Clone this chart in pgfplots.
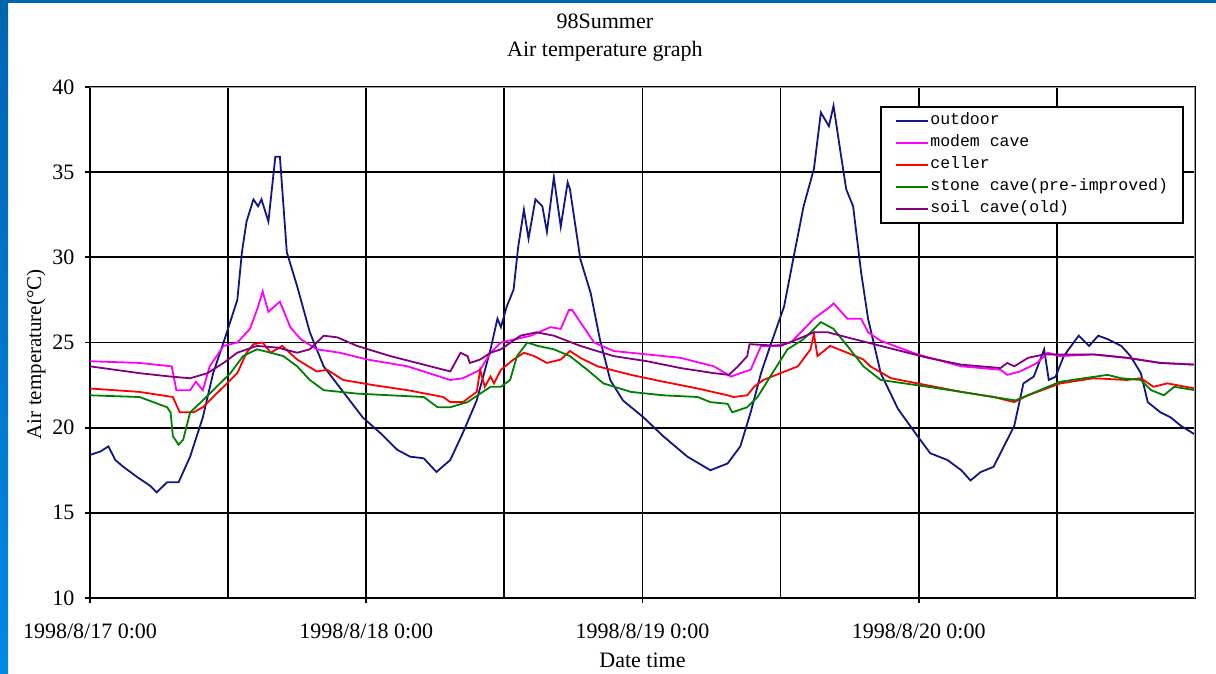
\documentclass[border=0pt]{standalone}
\usepackage{fontspec}
\setmainfont{Liberation Serif}
\newfontfamily\legfont{Liberation Mono}
\usepackage{pgfplots}
\usepackage{pgfplotstable}
\pgfplotsset{compat=1.18}
\definecolor{slideA}{RGB}{0,100,176}
\definecolor{slideB}{RGB}{0,136,230}
\definecolor{outdoorc}{RGB}{20,20,130}
\definecolor{modernc}{RGB}{255,0,255}
\definecolor{cellerc}{RGB}{255,0,0}
\definecolor{stonec}{RGB}{0,128,0}
\definecolor{soilc}{RGB}{128,0,128}
\definecolor{framegray}{RGB}{160,160,160}

\pgfplotstableread{
h T
0 18.4
0.9 18.6
1.6 18.9
2.2 18.1
2.9 17.7
4.1 17.1
5.2 16.6
5.8 16.2
6.7 16.8
7.7 16.8
8.7 18.3
9.8 20.6
10.7 23.2
11.7 25.2
12.8 27.5
13.2 30.3
13.6 32.1
14.2 33.4
14.6 33.0
14.9 33.4
15.5 32.1
16.1 35.9
16.5 35.9
17.1 30.3
18.0 28.3
19.1 25.6
20.3 23.6
22.0 22.1
23.7 20.6
25.2 19.7
26.7 18.7
27.8 18.3
29.0 18.2
30.1 17.4
31.3 18.1
32.4 19.7
33.6 21.6
34.8 24.6
35.4 26.4
35.7 25.9
36.2 27.1
36.8 28.1
37.2 30.6
37.7 32.8
38.1 31.1
38.7 33.4
39.3 33.0
39.7 31.5
40.3 34.7
40.9 31.8
41.5 34.4
41.7 34.0
42.6 29.9
43.5 27.9
44.3 25.2
45.2 22.8
46.3 21.6
48.1 20.6
49.8 19.5
51.9 18.3
53.9 17.5
55.4 17.9
56.5 18.9
57.4 20.9
58.3 23.2
59.1 24.8
60.3 27.1
61.1 29.9
62.0 33.0
62.9 35.2
63.5 38.5
64.2 37.7
64.6 38.9
65.2 36.2
65.7 34.0
66.3 33.0
67.0 29.1
67.6 26.4
68.7 23.2
70.2 21.1
71.9 19.5
73.0 18.5
74.5 18.1
75.7 17.5
76.5 16.9
77.4 17.4
78.5 17.7
79.1 18.5
80.3 20.1
81.1 22.6
82.0 23.0
82.9 24.6
83.3 22.8
83.9 23.0
84.6 24.2
85.9 25.4
86.8 24.8
87.6 25.4
88.4 25.2
89.6 24.8
90.4 24.2
91.3 23.2
91.9 21.5
93.0 20.9
93.9 20.6
94.8 20.1
96.0 19.6
}\outdoor

\pgfplotstableread{
h T
0 23.9
4.3 23.8
7.1 23.6
7.5 22.2
8.7 22.2
9.2 22.7
9.8 22.2
10.4 23.6
11.6 24.8
12.8 25.0
13.9 25.8
14.6 27.1
15.0 28.0
15.5 26.8
16.5 27.4
17.4 25.9
18.3 25.2
19.7 24.6
21.7 24.4
24.1 24.0
27.6 23.6
31.3 22.8
32.4 22.9
33.9 23.4
34.8 24.4
35.7 25.0
38.3 25.4
40.0 25.9
40.9 25.8
41.6 26.9
41.9 26.9
42.6 26.2
43.8 25.0
45.5 24.5
48.4 24.3
51.3 24.1
54.2 23.6
55.7 23.0
56.5 23.2
57.4 23.4
58.3 24.8
59.4 24.8
60.9 25.0
62.9 26.4
64.3 27.1
64.6 27.3
65.8 26.4
67.0 26.4
67.6 25.6
68.7 25.1
71.9 24.3
75.7 23.6
79.1 23.4
79.7 23.1
80.8 23.3
82.3 23.8
83.2 24.4
84.3 24.2
87.2 24.3
90.1 24.1
93.0 23.8
96.0 23.7
}\modern

\pgfplotstableread{
h T
0 22.3
4.3 22.1
7.2 21.8
7.8 20.9
9.0 20.9
9.8 21.2
10.7 21.8
11.6 22.4
12.8 23.2
13.6 24.4
14.2 24.9
15.0 25.0
15.7 24.4
16.7 24.8
18.0 24.0
19.7 23.3
20.6 23.4
22.0 22.8
24.6 22.5
27.6 22.2
30.7 21.8
31.3 21.5
32.4 21.5
33.6 22.1
33.9 23.4
34.3 22.4
34.8 23.0
35.1 22.6
35.7 23.4
36.8 24.0
37.7 24.4
38.6 24.2
39.7 23.8
40.9 24.0
41.7 24.5
42.6 24.1
44.1 23.6
47.0 23.1
49.8 22.7
52.8 22.3
55.4 21.9
55.9 21.8
57.1 21.9
57.7 22.4
58.5 22.8
60.0 23.2
61.5 23.6
62.6 24.6
62.9 25.5
63.2 24.2
64.3 24.8
65.8 24.4
67.2 24.0
67.8 23.6
69.6 22.9
71.9 22.6
75.7 22.1
78.5 21.8
80.3 21.5
81.5 21.9
84.3 22.6
87.2 22.9
90.1 22.8
91.3 22.9
92.4 22.4
93.6 22.6
96.0 22.3
}\celler

\pgfplotstableread{
h T
0 21.9
4.3 21.8
6.7 21.2
7.0 20.9
7.2 19.5
7.7 19.0
8.1 19.3
8.7 20.9
9.8 21.6
11.0 22.4
12.2 23.2
13.3 24.2
14.5 24.6
15.7 24.4
16.8 24.2
18.0 23.6
19.1 22.8
20.3 22.2
23.2 22.0
26.1 21.9
29.0 21.8
30.2 21.2
31.3 21.2
32.8 21.5
34.8 22.4
35.7 22.4
36.5 22.8
37.1 24.2
38.0 25.0
38.9 24.8
40.3 24.6
41.7 24.2
43.2 23.4
44.6 22.6
47.0 22.1
49.8 21.9
52.8 21.8
53.9 21.5
55.4 21.4
55.8 20.9
57.1 21.2
58.0 21.8
59.1 23.0
60.6 24.6
62.0 25.2
62.9 25.8
63.5 26.2
64.6 25.8
65.8 24.8
67.2 23.6
68.7 22.8
72.8 22.4
75.7 22.1
78.5 21.8
80.4 21.6
84.3 22.7
88.4 23.1
89.6 22.9
91.3 22.8
92.2 22.2
93.3 21.9
94.2 22.4
96.0 22.2
}\stone

\pgfplotstableread{
h T
0 23.6
4.3 23.2
7.0 23.0
8.7 22.9
10.2 23.2
11.6 23.8
12.8 24.4
14.5 24.8
16.3 24.7
18.0 24.4
19.1 24.6
20.3 25.4
21.5 25.3
23.2 24.8
26.1 24.2
29.0 23.7
31.3 23.3
32.2 24.4
32.8 24.2
33.0 23.8
33.9 24.0
34.8 24.4
35.7 24.6
37.4 25.4
38.8 25.6
40.3 25.4
42.6 24.8
45.5 24.2
48.4 23.9
51.3 23.5
54.2 23.2
55.5 23.1
56.3 23.6
57.1 24.2
57.3 24.9
60.0 24.8
61.5 25.2
62.9 25.6
64.1 25.6
65.8 25.3
68.7 24.8
72.8 24.1
75.7 23.7
79.1 23.5
79.7 23.8
80.3 23.6
81.5 24.1
82.9 24.3
87.2 24.3
90.1 24.1
93.0 23.8
96.0 23.7
}\soil

\begin{document}
\begin{tikzpicture}[x=1pt,y=1pt]
\useasboundingbox (0,0) rectangle (1216,673);
\fill[white] (0,0) rectangle (1216,673);
\shade[top color=slideA, bottom color=slideB] (0,0) rectangle (8,673);
\fill[slideA] (0,670) rectangle (1216,673);
\begin{axis}[
  at={(90pt,75pt)}, anchor=south west,
  scale only axis, width=1105pt, height=511pt,
  xmin=0, xmax=96, ymin=10, ymax=40,
  xtick={0,24,48,72},
  xticklabels={1998/8/17 0:00,1998/8/18 0:00,1998/8/19 0:00,1998/8/20 0:00},
  minor xtick={12,36,60,84},
  ytick={10,15,...,40},
  grid=both,
  major grid style={black, line width=1.8pt},
  minor grid style={black, line width=1.8pt},
  axis line style={black, line width=2pt},
  tick align=outside, major tick length=5pt, minor tick length=0pt,
  tick style={black, line width=1.8pt},
  xtick pos=bottom, ytick pos=left,
  /pgf/number format/assume math mode=true,
  tick label style={font=\fontsize{22}{24}\selectfont},
  yticklabel style={xshift=-7pt},
  xticklabel style={yshift=-17pt},
  xlabel={Date time},
  xlabel style={at={(axis description cs:0.5,0)}, anchor=center, yshift=-62pt, font=\fontsize{22}{26}\selectfont},
  ylabel={Air temperature(°C)},
  ylabel style={at={(axis description cs:-0.0489,0.477)}, anchor=center, font=\fontsize{21}{24}\selectfont},
  title={98Summer\\Air temperature graph},
  title style={at={(axis description cs:0.466,1)}, anchor=south, align=center, yshift=16pt, font=\fontsize{22}{28}\selectfont},
  legend style={at={(rel axis cs:0.990,0.963)}, anchor=north east, draw=black, line width=1.8pt,
    font=\legfont\fontsize{16.5}{18}\selectfont, inner xsep=14pt, inner ysep=5pt,
    nodes={inner sep=1pt, text height=12pt, text depth=4pt}, row sep=4pt},
  legend cell align=left,
  legend image code/.code={\draw[#1, line width=2pt] (0pt,0pt) -- (32pt,0pt);},
  every axis plot/.append style={line width=1.8pt, mark=none},
]
\addplot[draw=outdoorc] table[x=h,y=T] {\outdoor};
\addlegendentry{outdoor}
\addplot[draw=modernc] table[x=h,y=T] {\modern};
\addlegendentry{modem cave}
\addplot[draw=cellerc] table[x=h,y=T] {\celler};
\addlegendentry{celler}
\addplot[draw=stonec] table[x=h,y=T] {\stone};
\addlegendentry{stone cave(pre-improved)}
\addplot[draw=soilc] table[x=h,y=T] {\soil};
\addlegendentry{soil cave(old)}
\draw[framegray, line width=2pt] (rel axis cs:0,1) -- (rel axis cs:1,1) -- (rel axis cs:1,0);
\end{axis}
\end{tikzpicture}
\end{document}
